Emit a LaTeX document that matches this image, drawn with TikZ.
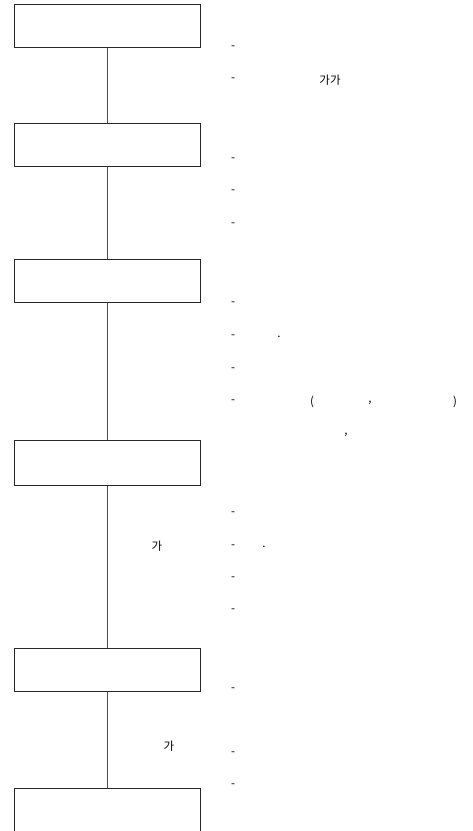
\documentclass[tikz,border=0pt]{standalone}
\usepackage{fontspec}
\setmainfont{Noto Sans CJK KR}
\begin{document}
\begin{tikzpicture}[x=1pt,y=-1pt,
  stage/.style={draw=black!85,line width=0.9pt,minimum width=186pt,minimum height=43pt,inner sep=0pt,anchor=north west},
  link/.style={draw=black!70,line width=0.8pt},
  txt/.style={inner sep=0pt,font=\fontsize{11.5}{13}\selectfont,text=black}]
\useasboundingbox (0,0) rectangle (473,831);
\node[stage] (b1) at (14,4) {};
\node[stage] (b2) at (14,123) {};
\node[stage] (b3) at (14,259) {};
\node[stage,minimum height=45pt] (b4) at (14,440) {};
\node[stage] (b5) at (14,648) {};
\node[stage,minimum height=60pt] (b6) at (14,788) {};
\draw[link] (b1.south) -- (b2.north);
\draw[link] (b2.south) -- (b3.north);
\draw[link] (b3.south) -- (b4.north);
\draw[link] (b4.south) -- (b5.north);
\draw[link] (b5.south) -- (b6.north);
% dashes
\foreach \n/\yy in {d1/48,d2/80,d3/160,d4/192,d5/225,d6/304,d7/337,d8/370,d9/402,d10/514,d11/547,d12/579,d13/611,d14/690,d15/754,d16/786}
  \node[txt] (\n) at (233,\yy) {-};
\node[txt] (t1) at (330,80) {가가};
\node[txt] (t2) at (279,337) {.};
\node[txt] (t3) at (312,402) {(};
\node[txt] (t4) at (370,403) {,};
\node[txt] (t5) at (455,402) {)};
\node[txt] (t6) at (346,435) {,};
\node[txt] (t7) at (157,546) {가};
\node[txt] (t8) at (264,547) {.};
\node[txt] (t9) at (169,746) {가};
\end{tikzpicture}
\end{document}
